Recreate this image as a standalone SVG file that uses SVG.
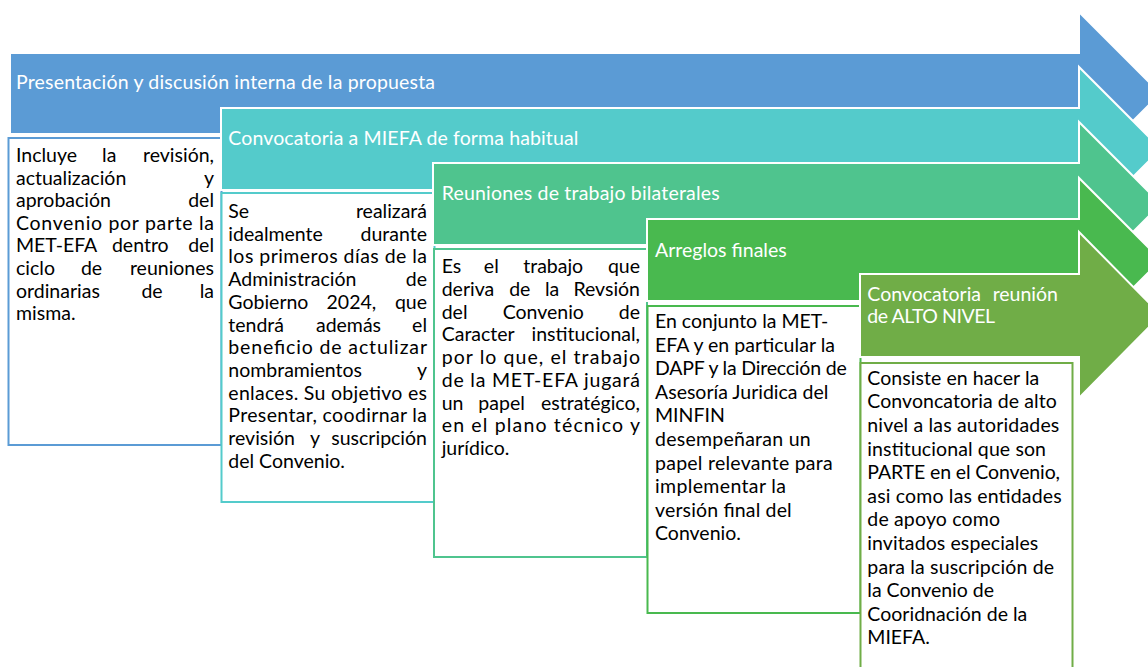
<svg xmlns="http://www.w3.org/2000/svg" width="1148" height="667" viewBox="0 0 1148 667">
<style>
.t{font-family:Lato,"Liberation Sans",sans-serif;font-size:19.5px;fill:#000}
.h{font-family:Lato,"Liberation Sans",sans-serif;font-size:19.5px;fill:#fff}
.r{text-anchor:end}
.m{text-anchor:middle}
.band{stroke:#fff;stroke-width:2}
.box{fill:#fff;stroke-width:2}
</style>
<rect width="1148" height="667" fill="#fff"/>
<g id="step1">
<path class="band" fill="#5B9BD5" d="M10,53 H1079 V12 L1160.5,93.5 L1079,175 V134 H10 Z"/>
<text class="h" x="16" y="89.3" textLength="419" lengthAdjust="spacing">Presentación y discusión interna de la propuesta</text>
<rect class="box" stroke="#5B9BD5" x="8.5" y="138" width="213" height="307"/>
<text class="t" x="16" y="162">Incluye</text><text class="t m" x="109.2" y="162">la</text><text class="t r" x="214" y="162">revisión,</text>
<text class="t" x="16" y="184.6">actualización</text><text class="t r" x="214" y="184.6">y</text>
<text class="t" x="16" y="207.2">aprobación</text><text class="t r" x="214" y="207.2">del</text>
<text class="t" x="16" y="229.8" textLength="198" lengthAdjust="spacing">Convenio por parte la</text>
<text class="t" x="16" y="252.4">MET-EFA</text><text class="t m" x="140.3" y="252.4">dentro</text><text class="t r" x="214" y="252.4">del</text>
<text class="t" x="16" y="275">ciclo</text><text class="t m" x="91.5" y="275">de</text><text class="t r" x="214" y="275">reuniones</text>
<text class="t" x="16" y="297.6">ordinarias</text><text class="t m" x="152" y="297.6">de</text><text class="t r" x="214" y="297.6">la</text>
<text class="t" x="16" y="320.2">misma.</text>
</g>
<g id="step2">
<path class="band" fill="#54CBCB" d="M221,108 H1079 V67 L1161,149 L1079,231 V190 H221 Z"/>
<text class="h" x="228.3" y="145" textLength="350" lengthAdjust="spacing">Convocatoria a MIEFA de forma habitual</text>
<rect class="box" stroke="#54CBCB" x="221.5" y="193" width="213" height="309"/>
<text class="t" x="228.3" y="218">Se</text><text class="t r" x="427" y="218">realizará</text>
<text class="t" x="228.3" y="240.7">idealmente</text><text class="t r" x="427" y="240.7">durante</text>
<text class="t" x="228.3" y="263.4" textLength="198.7" lengthAdjust="spacing">los primeros días de la</text>
<text class="t" x="228.3" y="286.1">Administración</text><text class="t r" x="427" y="286.1">de</text>
<text class="t" x="228.3" y="308.8">Gobierno</text><text class="t m" x="351.4" y="308.8">2024,</text><text class="t r" x="427" y="308.8">que</text>
<text class="t" x="228.3" y="331.5">tendrá</text><text class="t m" x="348.5" y="331.5">además</text><text class="t r" x="427" y="331.5">el</text>
<text class="t" x="228.3" y="354.2" textLength="198.7" lengthAdjust="spacing">beneficio de actulizar</text>
<text class="t" x="228.3" y="376.9">nombramientos</text><text class="t r" x="427" y="376.9">y</text>
<text class="t" x="228.3" y="399.6" textLength="198.7" lengthAdjust="spacing">enlaces. Su objetivo es</text>
<text class="t" x="228.3" y="422.3" textLength="198.7" lengthAdjust="spacing">Presentar, coodirnar la</text>
<text class="t" x="228.3" y="445">revisión</text><text class="t m" x="315" y="445">y</text><text class="t r" x="427" y="445">suscripción</text>
<text class="t" x="228.3" y="467.7">del Convenio.</text>
</g>
<g id="step3">
<path class="band" fill="#4FC48E" d="M433,163 H1079 V122 L1161,204 L1079,286 V245 H433 Z"/>
<text class="h" x="441.7" y="200" textLength="278" lengthAdjust="spacing">Reuniones de trabajo bilaterales</text>
<rect class="box" stroke="#4FC48E" x="434" y="249" width="213" height="308"/>
<text class="t" x="441.7" y="273.3">Es</text><text class="t m" x="491.3" y="273.3">el</text><text class="t m" x="553.2" y="273.3">trabajo</text><text class="t r" x="640" y="273.3">que</text>
<text class="t" x="441.7" y="296">deriva</text><text class="t m" x="519.8" y="296">de</text><text class="t m" x="552.1" y="296">la</text><text class="t r" x="640" y="296">Revsión</text>
<text class="t" x="441.7" y="318.7">del</text><text class="t m" x="543.3" y="318.7">Convenio</text><text class="t r" x="640" y="318.7">de</text>
<text class="t" x="441.7" y="341.4">Caracter</text><text class="t r" x="640" y="341.4">institucional,</text>
<text class="t" x="441.7" y="364.1" textLength="198.3" lengthAdjust="spacing">por lo que, el trabajo</text>
<text class="t" x="441.7" y="386.8" textLength="198.3" lengthAdjust="spacing">de la MET-EFA jugará</text>
<text class="t" x="441.7" y="409.5">un</text><text class="t m" x="501.6" y="409.5">papel</text><text class="t r" x="640" y="409.5">estratégico,</text>
<text class="t" x="441.7" y="432.2" textLength="198.3" lengthAdjust="spacing">en el plano técnico y</text>
<text class="t" x="441.7" y="454.9">jurídico.</text>
</g>
<g id="step4">
<path class="band" fill="#49B94F" d="M647,219 H1079 V178 L1161,260 L1079,342 V301 H647 Z"/>
<text class="h" x="655" y="256.7" textLength="131.7" lengthAdjust="spacing">Arreglos finales</text>
<rect class="box" stroke="#49B94F" x="647.5" y="306" width="213" height="307"/>
<text class="t" x="655" y="328" textLength="173.3" lengthAdjust="spacing">En conjunto la MET-</text>
<text class="t" x="655" y="351.6" textLength="180" lengthAdjust="spacing">EFA y en particular la</text>
<text class="t" x="655" y="375.2" textLength="191.7" lengthAdjust="spacing">DAPF y la Dirección de</text>
<text class="t" x="655" y="398.8" textLength="173.3" lengthAdjust="spacing">Asesoría Juridica del</text>
<text class="t" x="655" y="422.4">MINFIN</text>
<text class="t" x="655" y="446" textLength="155.7" lengthAdjust="spacing">desempeñaran un</text>
<text class="t" x="655" y="469.6" textLength="177.7" lengthAdjust="spacing">papel relevante para</text>
<text class="t" x="655" y="493.2" textLength="131" lengthAdjust="spacing">implementar la</text>
<text class="t" x="655" y="516.8" textLength="136.7" lengthAdjust="spacing">versión final del</text>
<text class="t" x="655" y="540.4">Convenio.</text>
</g>
<g id="step5">
<path class="band" fill="#70AD47" d="M860,274 H1079 V232 L1161,315 L1079,398 V357 H860 Z"/>
<text class="h" x="867.3" y="300.7">Convocatoria</text><text class="h r" x="1058" y="300.7">reunión</text>
<text class="h" x="867.3" y="323.3" textLength="127.7" lengthAdjust="spacing">de ALTO NIVEL</text>
<rect class="box" stroke="#70AD47" x="860.5" y="363" width="212" height="320"/>
<text class="t" x="867.3" y="384.7" textLength="172" lengthAdjust="spacing">Consiste en hacer la</text>
<text class="t" x="867.3" y="408.3" textLength="189.4" lengthAdjust="spacing">Convoncatoria de alto</text>
<text class="t" x="867.3" y="431.9" textLength="192" lengthAdjust="spacing">nivel a las autoridades</text>
<text class="t" x="867.3" y="455.5" textLength="178.7" lengthAdjust="spacing">institucional que son</text>
<text class="t" x="867.3" y="479.1" textLength="192.7" lengthAdjust="spacing">PARTE en el Convenio,</text>
<text class="t" x="867.3" y="502.7" textLength="194.4" lengthAdjust="spacing">asi como las entidades</text>
<text class="t" x="867.3" y="526.3" textLength="132.7" lengthAdjust="spacing">de apoyo como</text>
<text class="t" x="867.3" y="549.9" textLength="171" lengthAdjust="spacing">invitados especiales</text>
<text class="t" x="867.3" y="573.5" textLength="186.7" lengthAdjust="spacing">para la suscripción de</text>
<text class="t" x="867.3" y="597.1" textLength="126.7" lengthAdjust="spacing">la Convenio de</text>
<text class="t" x="867.3" y="620.7" textLength="160" lengthAdjust="spacing">Cooridnación de la</text>
<text class="t" x="867.3" y="644.3">MIEFA.</text>
</g>
<g id="connectors"/>
</svg>
